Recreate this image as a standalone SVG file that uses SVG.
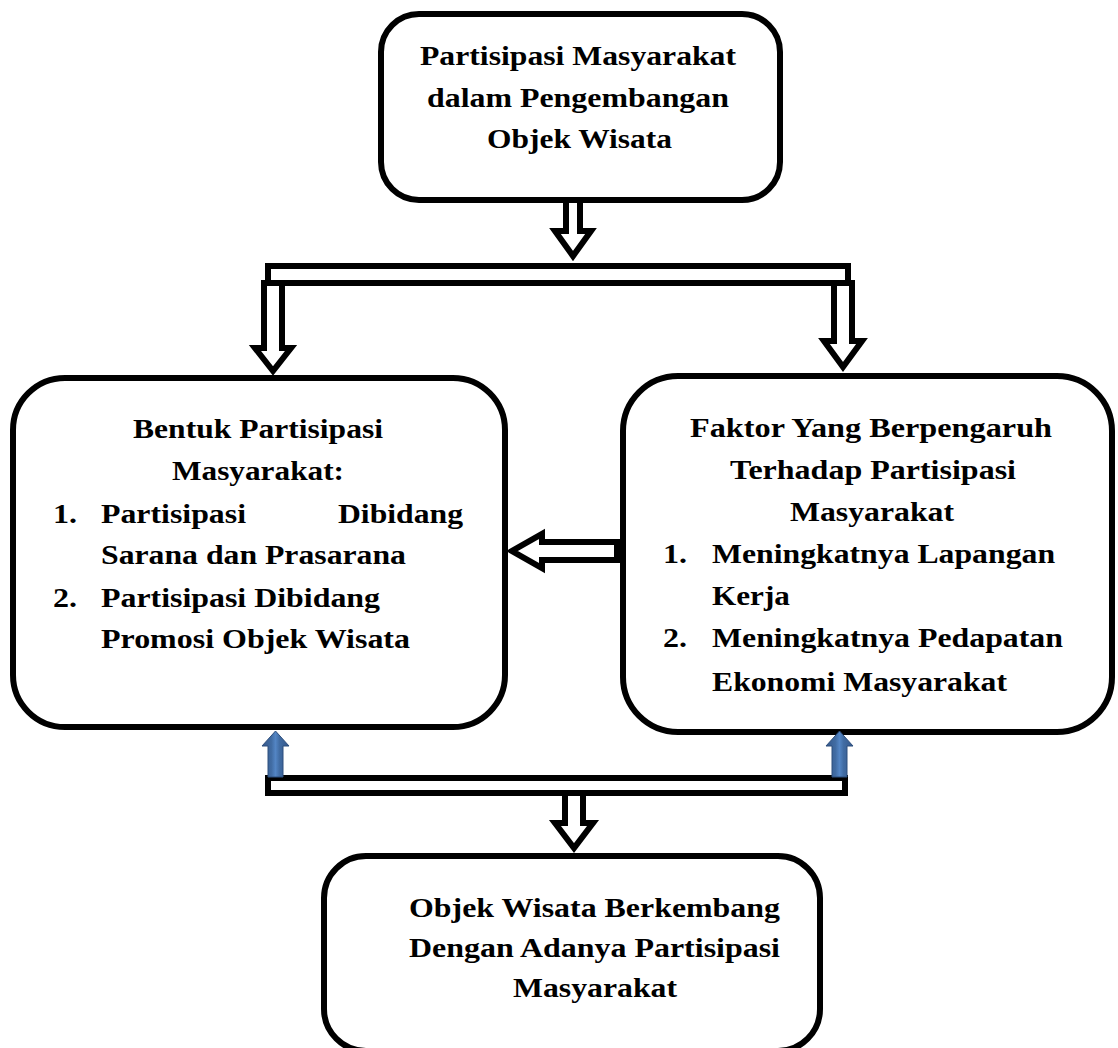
<svg xmlns="http://www.w3.org/2000/svg" width="1118" height="1048" viewBox="0 0 1118 1048">
<defs>
<style>
.box{fill:#fff;stroke:#000;stroke-width:6}
.hollow{fill:#fff;stroke:#000;stroke-width:6;stroke-linejoin:miter;stroke-miterlimit:10}
.blue{fill:url(#bluegrad);stroke:#2D4E7C;stroke-width:1}
.t{font-family:"Liberation Serif","Times New Roman",serif;font-weight:bold;font-size:27.5px;fill:#000}
</style>
<linearGradient id="bluegrad" x1="0" y1="0" x2="1" y2="0">
<stop offset="0" stop-color="#34578A"/>
<stop offset="0.35" stop-color="#416CA3"/>
<stop offset="0.5" stop-color="#5385C4"/>
<stop offset="0.65" stop-color="#416CA3"/>
<stop offset="1" stop-color="#34578A"/>
</linearGradient>
</defs>
<rect width="1118" height="1048" fill="#fff"/>

<g id="node-top">
<rect class="box" x="381" y="14" width="399" height="186" rx="38"/>
<text class="t" transform="translate(420,65) scale(1.15,1)" textLength="274.8" lengthAdjust="spacingAndGlyphs">Partisipasi Masyarakat</text>
<text class="t" transform="translate(427,107) scale(1.15,1)" textLength="262.6" lengthAdjust="spacingAndGlyphs">dalam Pengembangan</text>
<text class="t" transform="translate(487,148) scale(1.15,1)" textLength="160.9" lengthAdjust="spacingAndGlyphs">Objek Wisata</text>
</g>

<g id="node-left">
<rect class="box" x="13" y="378" width="492" height="349" rx="52"/>
<text class="t" transform="translate(133,438) scale(1.15,1)" textLength="217.4" lengthAdjust="spacingAndGlyphs">Bentuk Partisipasi</text>
<text class="t" transform="translate(172,480) scale(1.15,1)" textLength="149.6" lengthAdjust="spacingAndGlyphs">Masyarakat:</text>
<text class="t" transform="translate(53,523) scale(1.15,1)" textLength="20.9" lengthAdjust="spacingAndGlyphs">1.</text>
<text class="t" transform="translate(101,523) scale(1.15,1)" textLength="126.1" lengthAdjust="spacingAndGlyphs">Partisipasi</text>
<text class="t" transform="translate(338,523) scale(1.15,1)" textLength="108.7" lengthAdjust="spacingAndGlyphs">Dibidang</text>
<text class="t" transform="translate(101,564) scale(1.15,1)" textLength="265.2" lengthAdjust="spacingAndGlyphs">Sarana dan Prasarana</text>
<text class="t" transform="translate(53,607) scale(1.15,1)" textLength="20.9" lengthAdjust="spacingAndGlyphs">2.</text>
<text class="t" transform="translate(101,607) scale(1.15,1)" textLength="242.6" lengthAdjust="spacingAndGlyphs">Partisipasi Dibidang</text>
<text class="t" transform="translate(101,648) scale(1.15,1)" textLength="268.7" lengthAdjust="spacingAndGlyphs">Promosi Objek Wisata</text>
</g>

<g id="node-right">
<rect class="box" x="623" y="376" width="489" height="356" rx="55"/>
<text class="t" transform="translate(690,437) scale(1.15,1)" textLength="314.8" lengthAdjust="spacingAndGlyphs">Faktor Yang Berpengaruh</text>
<text class="t" transform="translate(730,479) scale(1.15,1)" textLength="248.7" lengthAdjust="spacingAndGlyphs">Terhadap Partisipasi</text>
<text class="t" transform="translate(790,521) scale(1.15,1)" textLength="142.6" lengthAdjust="spacingAndGlyphs">Masyarakat</text>
<text class="t" transform="translate(663,563) scale(1.15,1)" textLength="20.9" lengthAdjust="spacingAndGlyphs">1.</text>
<text class="t" transform="translate(712,563) scale(1.15,1)" textLength="298.3" lengthAdjust="spacingAndGlyphs">Meningkatnya Lapangan</text>
<text class="t" transform="translate(712,605) scale(1.15,1)" textLength="67.8" lengthAdjust="spacingAndGlyphs">Kerja</text>
<text class="t" transform="translate(663,647) scale(1.15,1)" textLength="20.9" lengthAdjust="spacingAndGlyphs">2.</text>
<text class="t" transform="translate(712,647) scale(1.15,1)" textLength="305.2" lengthAdjust="spacingAndGlyphs">Meningkatnya Pedapatan</text>
<text class="t" transform="translate(712,691) scale(1.15,1)" textLength="256.5" lengthAdjust="spacingAndGlyphs">Ekonomi Masyarakat</text>
</g>

<g id="node-bottom">
<rect class="box" x="324" y="856" width="496" height="195" rx="42"/>
<text class="t" transform="translate(409,917) scale(1.15,1)" textLength="322.6" lengthAdjust="spacingAndGlyphs">Objek Wisata Berkembang</text>
<text class="t" transform="translate(409,957) scale(1.15,1)" textLength="322.6" lengthAdjust="spacingAndGlyphs">Dengan Adanya Partisipasi</text>
<text class="t" transform="translate(513,997) scale(1.15,1)" textLength="142.6" lengthAdjust="spacingAndGlyphs">Masyarakat</text>
</g>

<g id="connectors">
<path class="hollow" d="M566,200 V231 H555 L573,256 L591,231 H580 V200 Z"/>
<rect class="hollow" x="268" y="266" width="580" height="17"/>
<path class="hollow" d="M264,283 V348 H255 L273,371 L291,348 H282 V283 Z"/>
<path class="hollow" d="M834,283 V341 H824 L843,367 L862,341 H852 V283 Z"/>
<path class="hollow" d="M617,542 H542 V534 L512,551 L542,568 V560 H617 Z"/>
<rect class="hollow" x="268" y="778" width="577" height="15"/>
<path class="hollow" d="M565,793 V823 H555 L574,848 L593,823 H583 V793 Z"/>
<path class="blue" d="M268,777 V746 H262 L275.5,731 L289,746 H283 V777 Z"/>
<path class="blue" d="M832,777 V746 H826 L839.5,731 L853,746 H847 V777 Z"/>
</g>
</svg>
